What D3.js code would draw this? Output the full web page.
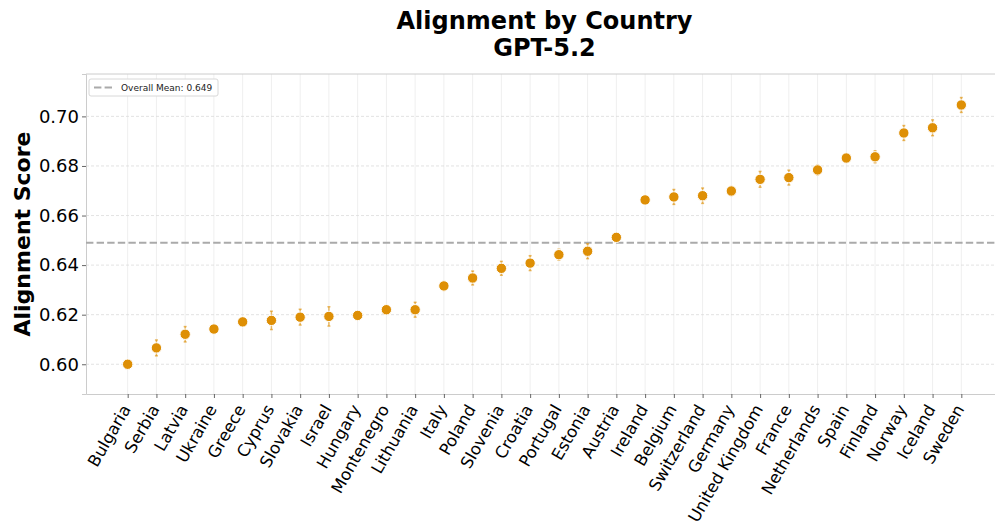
<!DOCTYPE html>
<html>
<head>
<meta charset="utf-8">
<script src="https://cdn.jsdelivr.net/npm/d3@7"></script>
<style>
	body { margin: 0; background: #fff; }
	svg { display: block; font-family: 'DejaVu Sans', sans-serif; }
</style>
</head>
<body>
<svg id="chart"></svg>
<script>
// chart data
var countries = ['Bulgaria', 'Serbia', 'Latvia', 'Ukraine', 'Greece', 'Cyprus', 'Slovakia', 'Israel',
	'Hungary', 'Montenegro', 'Lithuania', 'Italy', 'Poland', 'Slovenia', 'Croatia', 'Portugal',
	'Estonia', 'Austria', 'Ireland', 'Belgium', 'Switzerland', 'Germany', 'United Kingdom', 'France',
	'Netherlands', 'Spain', 'Finland', 'Norway', 'Iceland', 'Sweden'];

var scores = [0.6000, 0.6066, 0.6121, 0.6142, 0.6171, 0.6177, 0.6190, 0.6193,
	0.6197, 0.6220, 0.6220, 0.6316, 0.6348, 0.6387, 0.6408, 0.6442,
	0.6456, 0.6512, 0.6663, 0.6675, 0.6680, 0.6699, 0.6746, 0.6753,
	0.6784, 0.6832, 0.6837, 0.6933, 0.6954, 0.7046];

var errors = [0.0012, 0.0032, 0.0031, 0.0016, 0.0016, 0.0037, 0.0032, 0.0039,
	0.0016, 0.0016, 0.0030, 0.0018, 0.0028, 0.0028, 0.0030, 0.0022,
	0.0030, 0.0016, 0.0016, 0.0030, 0.0031, 0.0018, 0.0032, 0.0030,
	0.0020, 0.0016, 0.0024, 0.0030, 0.0032, 0.0030];

var yTicks = [0.60, 0.62, 0.64, 0.66, 0.68, 0.70];
var overallMean = 0.649;

// svg constants
var width = 995,
	height = 529,
	margin = {top: 74, left: 86, right: -8, bottom: 135},
	orange = '#de8f05',
	font = "'DejaVu Sans', sans-serif";

var svg = d3.select('#chart')
	.attr('width', width)
	.attr('height', height);

var x = d3.scalePoint()
	.domain(countries)
	.range([margin.left, width - margin.right])
	.padding(1.45);

var y = d3.scaleLinear()
	.domain([0.588, 0.7171])
	.range([height - margin.bottom, margin.top]);

var plotBottom = height - margin.bottom;

/* --- grid --- */
svg.selectAll('.vgrid')
	.data(countries)
	.enter().append('line')
		.attr('class', 'vgrid')
		.attr('x1', function(d) { return x(d); })
		.attr('x2', function(d) { return x(d); })
		.attr('y1', margin.top)
		.attr('y2', plotBottom)
		.attr('stroke', '#efefef')
		.attr('stroke-width', 1);

svg.selectAll('.hgrid')
	.data(yTicks)
	.enter().append('line')
		.attr('class', 'hgrid')
		.attr('x1', margin.left)
		.attr('x2', width)
		.attr('y1', function(d) { return y(d); })
		.attr('y2', function(d) { return y(d); })
		.attr('stroke', '#dcdcdc')
		.attr('stroke-width', 0.8)
		.attr('stroke-dasharray', '3,2');

/* --- axes --- */
var xAxis = svg.append('g')
	.attr('transform', 'translate(0,' + plotBottom + ')')
	.call(d3.axisBottom(x).tickSize(4).tickSizeOuter(0))
	.attr('font-family', font);

xAxis.select('.domain').attr('stroke', '#cccccc');
xAxis.selectAll('.tick line').attr('stroke', '#666');
xAxis.selectAll('.tick text')
	.attr('font-size', '16.5px')
	.attr('fill', '#000')
	.attr('text-anchor', 'end')
	.attr('x', 0)
	.attr('y', 0)
	.attr('dy', '0.35em')
	.attr('transform', 'translate(-2,12) rotate(-60)');

var yAxis = svg.append('g')
	.attr('transform', 'translate(' + margin.left + ',0)')
	.call(d3.axisLeft(y).tickValues(yTicks).tickFormat(d3.format('.2f')).tickSize(4).tickPadding(3))
	.attr('font-family', font);

yAxis.select('.domain').attr('stroke', '#cccccc');
yAxis.selectAll('.tick line').attr('stroke', '#666');
yAxis.selectAll('.tick text')
	.attr('font-size', '18px')
	.attr('fill', '#000');

// top spine
svg.append('line')
	.attr('x1', margin.left)
	.attr('x2', width)
	.attr('y1', margin.top)
	.attr('y2', margin.top)
	.attr('stroke', '#cccccc');

/* --- mean line --- */
svg.append('line')
	.attr('x1', margin.left)
	.attr('x2', width)
	.attr('y1', y(overallMean))
	.attr('y2', y(overallMean))
	.attr('stroke', '#aaaaaa')
	.attr('stroke-width', 2)
	.attr('stroke-dasharray', '7.4,3.2');

/* --- error bars and points --- */
var pts = countries.map(function(c, i) {
	return {country: c, score: scores[i], err: errors[i]};
});

svg.selectAll('.err')
	.data(pts)
	.enter().append('line')
		.attr('class', 'err')
		.attr('x1', function(d) { return x(d.country); })
		.attr('x2', function(d) { return x(d.country); })
		.attr('y1', function(d) { return y(d.score - d.err); })
		.attr('y2', function(d) { return y(d.score + d.err); })
		.attr('stroke', orange)
		.attr('stroke-opacity', 0.6)
		.attr('stroke-width', 1.5);

[-1, 1].forEach(function(s) {
	svg.selectAll('.cap' + (s + 1))
		.data(pts)
		.enter().append('line')
			.attr('x1', function(d) { return x(d.country) - 1.5; })
			.attr('x2', function(d) { return x(d.country) + 1.5; })
			.attr('y1', function(d) { return y(d.score + s * d.err); })
			.attr('y2', function(d) { return y(d.score + s * d.err); })
			.attr('stroke', orange)
			.attr('stroke-opacity', 0.6)
			.attr('stroke-width', 1.5);
});

svg.selectAll('.point')
	.data(pts)
	.enter().append('circle')
		.attr('class', 'point')
		.attr('cx', function(d) { return x(d.country); })
		.attr('cy', function(d) { return y(d.score); })
		.attr('r', 5.2)
		.attr('fill', orange)
		.attr('stroke', '#fff')
		.attr('stroke-width', 1);

/* --- legend --- */
var legend = svg.append('g')
	.attr('transform', 'translate(89,79)');

legend.append('rect')
	.attr('width', 129)
	.attr('height', 17)
	.attr('rx', 2)
	.attr('fill', '#fff')
	.attr('stroke', '#d8d8d8');

legend.append('line')
	.attr('x1', 5)
	.attr('x2', 24)
	.attr('y1', 8.5)
	.attr('y2', 8.5)
	.attr('stroke', '#aaaaaa')
	.attr('stroke-width', 2)
	.attr('stroke-dasharray', '7.4,3.2');

legend.append('text')
	.attr('x', 32)
	.attr('y', 12)
	.attr('font-size', '9px')
	.attr('fill', '#222')
	.text('Overall Mean: ' + overallMean.toFixed(3));

/* --- titles --- */
var titleX = (margin.left + width - margin.right) / 2;

svg.append('text')
	.attr('x', titleX)
	.attr('y', 29)
	.attr('text-anchor', 'middle')
	.attr('font-size', '24px')
	.attr('font-weight', 'bold')
	.text('Alignment by Country');

svg.append('text')
	.attr('x', titleX)
	.attr('y', 56)
	.attr('text-anchor', 'middle')
	.attr('font-size', '24px')
	.attr('font-weight', 'bold')
	.text('GPT-5.2');

svg.append('text')
	.attr('transform', 'translate(30,' + ((margin.top + plotBottom) / 2) + ') rotate(-90)')
	.attr('text-anchor', 'middle')
	.attr('font-size', '22px')
	.attr('font-weight', 'bold')
	.text('Alignment Score');
</script>
</body>
</html>
